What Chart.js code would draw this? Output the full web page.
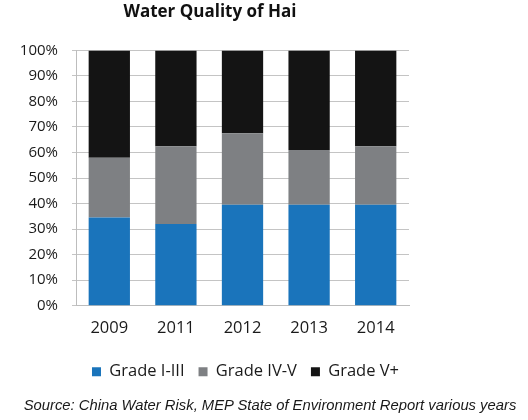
<!DOCTYPE html>
<html>
<head>
<meta charset="utf-8">
<script src="https://cdn.jsdelivr.net/npm/chart.js@4.4.1/dist/chart.umd.min.js"></script>
<style>
  body { margin: 0; background: #fff; }
  #wrap { position: relative; width: 528px; height: 420px; }
  #source {
    position: absolute; left: 6px; top: 397px; width: 528px;
    text-align: center; font: italic 14.8px "Liberation Sans", Arial, sans-serif; color: #1a1a1a;
  }
</style>
</head>
<body>
<div id="wrap">
  <canvas id="grafico" width="528" height="420"></canvas>
  <div id="source">Source: China Water Risk, MEP State of Environment Report various years</div>
</div>
<script>
const anos = ['2009', '2011', '2012', '2013', '2014'];
const gradeI_III = [34.5, 32, 39.5, 39.5, 39.5];
const gradeIV_V = [23.5, 30.5, 28, 21.5, 23];
const gradeVmais = [42, 37.5, 32.5, 39, 37.5];

// move title and legend so they sit where the original puts them
const posicionar = {
  id: 'posicionar',
  afterLayout(chart) {
    const mover = (box, centro) => {
      const d = centro - (box.left + box.right) / 2;
      box.left += d;
      box.right += d;
    };
    const a = chart.chartArea;
    mover(chart.titleBlock, 210);
    mover(chart.legend, (a.left + a.right) / 2 + 3);
  },
};

const ctx = document.getElementById('grafico').getContext('2d');
const grafico = new Chart(ctx, {
  type: 'bar',
  data: {
    labels: anos,
    datasets: [
      { label: 'Grade I-III', data: gradeI_III, backgroundColor: '#1a74bb' },
      { label: 'Grade IV-V', data: gradeIV_V, backgroundColor: '#7e8083' },
      { label: 'Grade V+', data: gradeVmais, backgroundColor: '#141414' },
    ],
  },
  plugins: [posicionar],
  options: {
    responsive: false,
    animation: false,
    layout: { padding: { left: 0, right: 119, top: 0, bottom: 30 } },
    datasets: { bar: { categoryPercentage: 1, barPercentage: 0.62 } },
    plugins: {
      title: {
        display: true,
        text: 'Water Quality of Hai',
        color: '#111',
        font: { family: '"Open Sans"', size: 17, weight: 'bold' },
        padding: { top: 2, bottom: 28 },
      },
      legend: {
        position: 'bottom',
        labels: {
          boxWidth: 9,
          boxHeight: 9,
          padding: 14,
          color: '#1a1a1a',
          font: { family: '"Open Sans"', size: 16.5 },
        },
      },
      tooltip: { enabled: false },
    },
    scales: {
      x: {
        stacked: true,
        afterFit(scale) { scale.height += 6; },
        grid: { display: false },
        border: { display: true, color: '#bdbdbd' },
        ticks: { color: '#1a1a1a', padding: 5, font: { family: '"Open Sans"', size: 16.5 } },
      },
      y: {
        stacked: true,
        min: 0,
        max: 100,
        afterFit(scale) { scale.width = 76; },
        grid: { color: '#c4c4c4', tickLength: 4 },
        border: { display: true, color: '#bdbdbd' },
        ticks: {
          stepSize: 10,
          padding: 14,
          color: '#1a1a1a',
          font: { family: '"Open Sans"', size: 15 },
          callback: (v) => v + '%',
        },
      },
    },
  },
});
</script>
</body>
</html>
